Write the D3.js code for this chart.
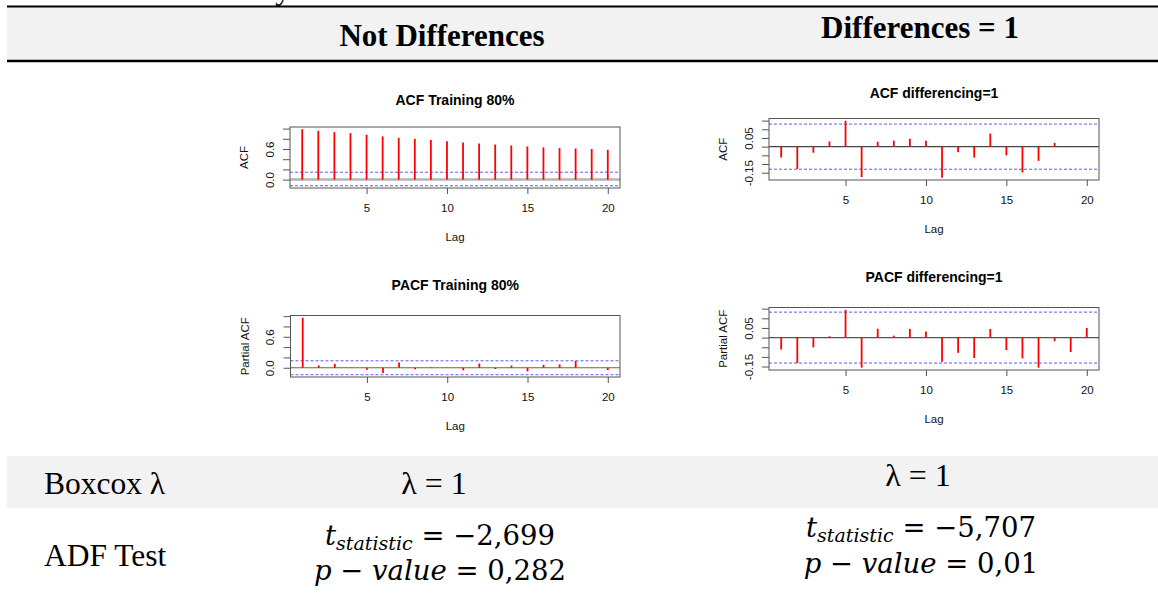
<!DOCTYPE html>
<html>
<head>
<meta charset="utf-8">
<script src="https://cdn.jsdelivr.net/npm/d3@7"></script>
<style>
  body { margin: 0; background: #fff; }
  svg { display: block; }
</style>
</head>
<body>
<svg id="chart" width="1158" height="599"></svg>
<script>
// values
const lags = [1, 2, 3, 4, 5, 6, 7, 8, 9, 10, 11, 12, 13, 14, 15, 16, 17, 18, 19, 20];
const acfTraining = [0.987, 0.955, 0.93, 0.91, 0.88, 0.847, 0.82, 0.8, 0.777, 0.75, 0.726, 0.707, 0.688, 0.669, 0.65, 0.63, 0.618, 0.61, 0.6, 0.586];
const pacfTraining = [0.968, 0.044, 0.076, 0.003, -0.038, -0.1, 0.1, -0.03, 0.006, -0.005, -0.05, 0.082, -0.025, 0.044, -0.07, 0.057, 0.063, 0.133, 0.002, -0.044];
const acfDiff = [-0.063, -0.129, -0.035, 0.03, 0.149, -0.175, 0.028, 0.035, 0.045, 0.034, -0.179, -0.032, -0.063, 0.075, -0.05, -0.149, -0.082, 0.022, 0.002, -0.002];
const pacfDiff = [-0.062, -0.132, -0.051, 0.007, 0.144, -0.156, 0.046, 0.01, 0.045, 0.031, -0.125, -0.079, -0.106, 0.045, -0.065, -0.108, -0.156, -0.019, -0.075, 0.05];

// confidence bands [lower, upper]
const acfTrainingCI = [-0.12, 0.145];
const pacfTrainingCI = [-0.135, 0.135];
const acfDiffCI = [-0.13, 0.13];
const pacfDiffCI = [-0.132, 0.132];

const lagTicks = [5, 10, 15, 20];
const trainTicks = [0, 0.2, 0.4, 0.6, 0.8, 1.0];
const trainTickLabels = ["0.0", "", "", "0.6", "", ""];
const diffTicks = [-0.15, -0.1, -0.05, 0, 0.05, 0.1, 0.15];
const diffTickLabels = ["-0.15", "", "", "", "0.05", "", ""];

const rowLabels = ["Boxcox λ", "ADF Test"];
const colHeaders = ["Not Differences", "Differences = 1"];
const lambdaValues = ["1", "1"];
const tStatistics = ["−2,699", "−5,707"];
const pValues = ["0,282", "0,01"];

const svg = d3.select("#chart");
const serif = "'Liberation Serif', 'Times New Roman', serif";
const sans = "'Liberation Sans', Arial, sans-serif";
const mathFont = "'DejaVu Serif', serif";

// ---- table frame ----
// descender of the caption line above, cut off by the top edge
svg.append("text")
  .attr("x", 283).attr("y", -1)
  .attr("text-anchor", "middle")
  .style("font-family", serif).style("font-size", "31px")
  .text("y");

svg.append("rect").attr("x", 7).attr("y", 7).attr("width", 1151).attr("height", 53).attr("fill", "#f2f2f2");
svg.append("line").attr("x1", 7).attr("x2", 1158).attr("y1", 6.5).attr("y2", 6.5).attr("stroke", "#000").attr("stroke-width", 2);
svg.append("line").attr("x1", 7).attr("x2", 1158).attr("y1", 61).attr("y2", 61).attr("stroke", "#000").attr("stroke-width", 2.5);

const headerPos = [{ x: 442, y: 46 }, { x: 920, y: 38 }];
colHeaders.forEach(function (h, i) {
  svg.append("text")
    .attr("x", headerPos[i].x).attr("y", headerPos[i].y)
    .attr("text-anchor", "middle")
    .style("font-family", serif).style("font-size", "31px").style("font-weight", "bold")
    .text(h);
});

svg.append("rect").attr("x", 7).attr("y", 456).attr("width", 1151).attr("height", 52).attr("fill", "#f2f2f2");

svg.append("text").attr("x", 44).attr("y", 494)
  .style("font-family", serif).style("font-size", "31.5px").text(rowLabels[0]);
svg.append("text").attr("x", 44).attr("y", 566)
  .style("font-family", serif).style("font-size", "31.5px").text(rowLabels[1]);

const lambdaPos = [{ x: 434, y: 494 }, { x: 918, y: 486 }];
lambdaValues.forEach(function (v, i) {
  svg.append("text")
    .attr("x", lambdaPos[i].x).attr("y", lambdaPos[i].y)
    .attr("text-anchor", "middle")
    .style("font-family", serif).style("font-size", "32px")
    .text("λ = " + v);
});

const adfPos = [{ x: 440, ty: 545, py: 580 }, { x: 921, ty: 537, py: 573 }];
tStatistics.forEach(function (t, i) {
  let tt = svg.append("text")
    .attr("x", adfPos[i].x).attr("y", adfPos[i].ty)
    .attr("text-anchor", "middle")
    .style("font-family", mathFont).style("font-size", "27.5px");
  tt.append("tspan").style("font-style", "italic").text("t");
  tt.append("tspan").style("font-style", "italic").style("font-size", "19px").attr("dy", 5).text("statistic");
  tt.append("tspan").attr("dy", -5).text(" = " + t);

  svg.append("text")
    .attr("x", adfPos[i].x).attr("y", adfPos[i].py)
    .attr("text-anchor", "middle")
    .style("font-family", mathFont).style("font-size", "27.5px")
    .call(function (s) {
      s.append("tspan").style("font-style", "italic").text("p");
      s.append("tspan").text(" − ");
      s.append("tspan").style("font-style", "italic").text("value");
      s.append("tspan").text(" = " + pValues[i]);
    });
});

// ---- correlogram panels ----
function drawPanel(opt) {
  let b = opt.box;
  let g = svg.append("g");

  let x = d3.scaleLinear()
    .domain([1 - 0.04 * 19, 20 + 0.04 * 19])
    .range([b.x0, b.x1]);

  let ext = d3.extent(opt.values.concat(opt.ci));
  let pad = 0.04 * (ext[1] - ext[0]);
  let y = d3.scaleLinear()
    .domain([ext[0] - pad, ext[1] + pad])
    .range([b.y1, b.y0]);

  // zero line
  g.append("line")
    .attr("x1", b.x0).attr("x2", b.x1)
    .attr("y1", y(0)).attr("y2", y(0))
    .attr("stroke", opt.zeroColor).attr("stroke-width", opt.zeroWidth);

  // confidence limits
  opt.ci.forEach(function (c) {
    g.append("line")
      .attr("x1", b.x0).attr("x2", b.x1)
      .attr("y1", y(c)).attr("y2", y(c))
      .attr("stroke", "#5a5aff").attr("stroke-width", 1)
      .attr("stroke-dasharray", "3,2");
  });

  // spikes
  g.selectAll(".spike")
    .data(opt.values)
    .enter()
    .append("line")
    .attr("class", "spike")
    .attr("x1", function (d, i) { return x(lags[i]); })
    .attr("x2", function (d, i) { return x(lags[i]); })
    .attr("y1", y(0))
    .attr("y2", function (d) { return y(d); })
    .attr("stroke", "#ff0000").attr("stroke-width", 1.8);

  // box
  g.append("rect")
    .attr("x", b.x0).attr("y", b.y0)
    .attr("width", b.x1 - b.x0).attr("height", b.y1 - b.y0)
    .attr("fill", "none").attr("stroke", "#555").attr("stroke-width", 1);

  // x axis
  let xAxis = g.append("g")
    .attr("transform", "translate(0," + b.y1 + ")")
    .call(d3.axisBottom(x).tickValues(lagTicks).tickSize(6).tickPadding(10));
  xAxis.select(".domain").remove();
  xAxis.selectAll("line").attr("stroke", "#555");
  xAxis.selectAll("text").style("font-family", sans).style("font-size", "11.5px").attr("fill", "#111");

  // y axis
  let yAxis = g.append("g")
    .attr("transform", "translate(" + b.x0 + ",0)")
    .call(d3.axisLeft(y).tickValues(opt.ticks).tickSize(7).tickFormat(function (d, i) { return opt.tickLabels[i]; }));
  yAxis.select(".domain").remove();
  yAxis.selectAll("line").attr("stroke", "#555");
  yAxis.selectAll("text")
    .attr("x", null).attr("dy", "0.35em")
    .attr("transform", "translate(-20.5,0) rotate(-90)")
    .attr("text-anchor", "middle")
    .style("font-family", sans).style("font-size", "11.5px").attr("fill", "#111");

  // titles
  g.append("text")
    .attr("x", (b.x0 + b.x1) / 2).attr("y", opt.titleY + 5)
    .attr("text-anchor", "middle")
    .style("font-family", sans).style("font-size", "14px").style("font-weight", "bold")
    .text(opt.title);

  g.append("text")
    .attr("x", (b.x0 + b.x1) / 2).attr("y", b.y1 + 53)
    .attr("text-anchor", "middle")
    .style("font-family", sans).style("font-size", "11.5px").attr("fill", "#111")
    .text("Lag");

  g.append("text")
    .attr("transform", "translate(" + (b.x0 - 46) + "," + (b.y0 + b.y1) / 2 + ") rotate(-90)")
    .attr("dy", "0.35em")
    .attr("text-anchor", "middle")
    .style("font-family", sans).style("font-size", "11.5px").attr("fill", "#111")
    .text(opt.ylab);
}

drawPanel({
  title: "ACF Training 80%", ylab: "ACF",
  values: acfTraining, ci: acfTrainingCI,
  ticks: trainTicks, tickLabels: trainTickLabels,
  box: { x0: 290, x1: 620, y0: 127, y1: 188 }, titleY: 100,
  zeroColor: "#b3b3b3", zeroWidth: 2.5
});

drawPanel({
  title: "ACF differencing=1", ylab: "ACF",
  values: acfDiff, ci: acfDiffCI,
  ticks: diffTicks, tickLabels: diffTickLabels,
  box: { x0: 769, x1: 1099, y0: 118.5, y1: 180 }, titleY: 93,
  zeroColor: "#444", zeroWidth: 1.2
});

drawPanel({
  title: "PACF Training 80%", ylab: "Partial ACF",
  values: pacfTraining, ci: pacfTrainingCI,
  ticks: trainTicks, tickLabels: trainTickLabels,
  box: { x0: 290.5, x1: 620, y0: 315.5, y1: 377 }, titleY: 285,
  zeroColor: "#666", zeroWidth: 1.2
});

drawPanel({
  title: "PACF differencing=1", ylab: "Partial ACF",
  values: pacfDiff, ci: pacfDiffCI,
  ticks: diffTicks, tickLabels: diffTickLabels,
  box: { x0: 769, x1: 1099, y0: 307.5, y1: 370 }, titleY: 277,
  zeroColor: "#555", zeroWidth: 1.2
});
</script>
</body>
</html>
